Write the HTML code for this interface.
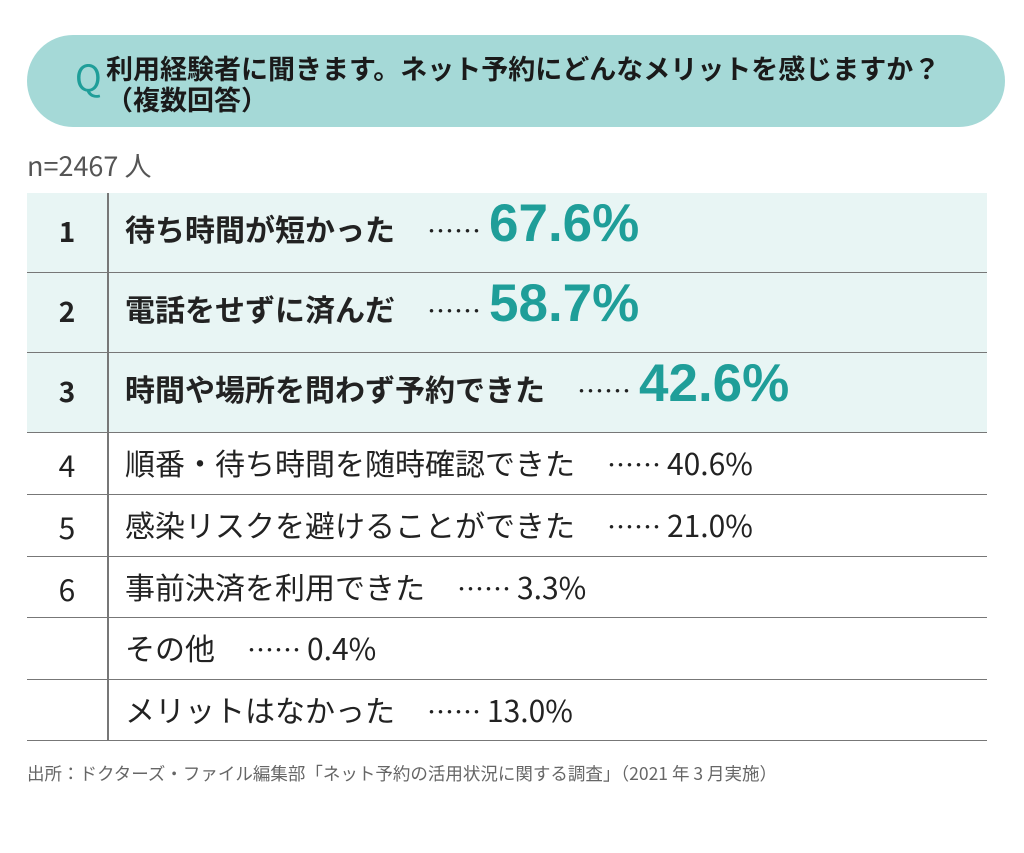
<!DOCTYPE html>
<html><head><meta charset="utf-8"><style>
body{margin:0;width:1024px;height:853px;background:#fff;position:relative;font-family:"Liberation Sans","Noto Sans CJK JP",sans-serif;color:#222;overflow:hidden}
.pill{position:absolute;left:27px;top:35px;width:978px;height:92px;border-radius:46px;background:#a5d9d7}
.q{position:absolute;left:75px;top:54px;font-size:36px;color:#1f9e99;font-family:"Noto Sans CJK JP",sans-serif;line-height:44px}
.qt{position:absolute;left:106px;top:52px;font-size:27px;font-weight:bold;line-height:31px;font-family:"Noto Sans CJK JP",sans-serif;color:#1a1a1a}
.n{position:absolute;left:27px;top:145px;font-size:27px;color:#555;font-family:"Noto Sans CJK JP",sans-serif}
.row{position:absolute;left:27px;width:960px;border-bottom:1.5px solid #777;box-sizing:border-box}
.row.hl{background:#e8f5f4}
.rk{position:absolute;left:0;width:80px;text-align:center;font-family:"Noto Sans CJK JP",sans-serif}
.lb{position:absolute;left:98px;white-space:nowrap;font-family:"Noto Sans CJK JP",sans-serif}
.vl{position:absolute;left:107px;top:193px;width:1.5px;height:548px;background:#777}
.src{position:absolute;left:27px;top:761px;font-size:17.5px;color:#666;font-family:"Noto Sans CJK JP",sans-serif}
</style></head><body>
<div class="pill"></div>
<div class="q">Q</div>
<div class="qt">利用経験者に聞きます。ネット予約にどんなメリットを感じますか？<br>（複数回答）</div>
<div class="n">n=2467 人</div>
<div id="tbl"></div>
<div class="vl"></div>
<div class="src">出所：ドクターズ・ファイル編集部「ネット予約の活用状況に関する調査」（2021 年 3 月実施）</div>
<script>
const ranks=["1","2","3","4","5","6","",""];
const labels=["待ち時間が短かった","電話をせずに済んだ","時間や場所を問わず予約できた","順番・待ち時間を随時確認できた","感染リスクを避けることができた","事前決済を利用できた","その他","メリットはなかった"];
const values=[67.6,58.7,42.6,40.6,21.0,3.3,0.4,13.0];
const tops=[193,273,353,433,495,557,618,680,741];
const tbl=document.getElementById('tbl');
for(let i=0;i<labels.length;i++){
  const big=i<3;
  const r=document.createElement('div');
  
  
  r.className='row'+(big?' hl':'');
  const h=tops[i+1]-tops[i];
  r.style.top=tops[i]+'px';r.style.height=h+'px';
  const rk=document.createElement('div');
  
  
  rk.className='rk';rk.textContent=ranks[i];
  rk.style.fontSize=big?'28px':'30px';rk.style.fontWeight=big?'bold':'normal';
  rk.style.top=(h/2-22)+'px';
  r.appendChild(rk);
  const lb=document.createElement('div');
  
  
  lb.className='lb';
  lb.style.fontSize=big?'30px':'30px';lb.style.fontWeight=big?'bold':'normal';
  lb.style.top=(big?h/2-40:h/2-24)+'px';
  const t=document.createElement('span');t.textContent=labels[i];
  const d=document.createElement('span');d.textContent='……';d.style.marginLeft='32px';d.style.marginRight=big?'8px':'6px';
  d.style.fontWeight='normal';d.style.fontSize='27px';
  const v=document.createElement('span');
  
  
  v.textContent=values[i].toFixed(1)+'%';
  if(big){v.style.fontSize='53px';v.style.color='#1f9e99';v.style.fontFamily='"Liberation Sans",sans-serif';}
  lb.appendChild(t);lb.appendChild(d);lb.appendChild(v);
  r.appendChild(lb);
  tbl.appendChild(r);
}
</script>
</body></html>
